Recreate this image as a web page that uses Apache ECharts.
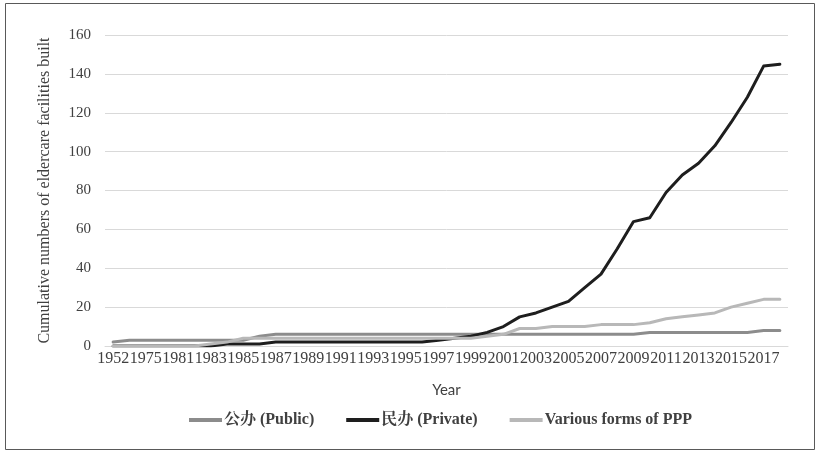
<!DOCTYPE html>
<html>
<head>
<meta charset="utf-8">
<script src="https://cdn.jsdelivr.net/npm/echarts@6/dist/echarts.min.js"></script>
<style>
  html, body { margin: 0; padding: 0; background: #fff; }
  #main { width: 819px; height: 453px; }
</style>
</head>
<body>
<div id="main"></div>
<script>
// years on the x axis (only every other one gets a label)
var years = ['1952', '1965', '1975', '1980', '1981', '1982', '1983', '1984', '1985', '1986',
  '1987', '1988', '1989', '1990', '1991', '1992', '1993', '1994', '1995', '1996',
  '1997', '1998', '1999', '2000', '2001', '2002', '2003', '2004', '2005', '2006',
  '2007', '2008', '2009', '2010', '2011', '2012', '2013', '2014', '2015', '2016',
  '2017', '2018'];

var publicVals = [2, 3, 3, 3, 3, 3, 3, 3, 3, 5,
  6, 6, 6, 6, 6, 6, 6, 6, 6, 6,
  6, 6, 6, 6, 6, 6, 6, 6, 6, 6,
  6, 6, 6, 7, 7, 7, 7, 7, 7, 7,
  8, 8];

var privateVals = [0, 0, 0, 0, 0, 0, 0, 1, 1, 1,
  2, 2, 2, 2, 2, 2, 2, 2, 2, 2,
  3, 4, 5, 7, 10, 15, 17, 20, 23, 30,
  37, 50, 64, 66, 79, 88, 94, 103, 115, 128,
  144, 145];

var pppVals = [0, 0, 0, 0, 0, 0, 1, 2, 4, 4,
  4, 4, 4, 4, 4, 4, 4, 4, 4, 4,
  4, 4, 4, 5, 6, 9, 9, 10, 10, 10,
  11, 11, 11, 12, 14, 15, 16, 17, 20, 22,
  24, 24];

var seriesNames = ['公办 (Public)', '民办 (Private)', 'Various forms of PPP'];
var yTicks = [0, 20, 40, 60, 80, 100, 120, 140, 160];

var chart = echarts.init(document.getElementById('main'));

var serif = "'Liberation Serif', 'Times New Roman', 'Noto Serif CJK SC', 'Noto Sans CJK SC', serif";

function line(name, data, color) {
  return {
    name: name,
    type: 'line',
    data: data,
    symbol: 'none',
    lineStyle: { width: 3, color: color, join: 'round', cap: 'round' },
    itemStyle: { color: color }
  };
}

var option = {
  animation: false,
  backgroundColor: '#fff',
  graphic: [{
    type: 'rect',
    shape: { x: 5.5, y: 3.5, width: 809, height: 446 },
    style: { fill: 'none', stroke: '#595959', lineWidth: 1 },
    silent: true
  }],
  grid: { left: 105, right: 31, top: 35, bottom: 107 },
  legend: {
    bottom: 20,
    left: 184,
    itemWidth: 33,
    itemHeight: 4,
    itemGap: 32,
    icon: 'rect',
    textStyle: { fontFamily: serif, fontWeight: 'bold', fontSize: 16, color: '#404040', padding: [0, 0, 0, -3] },
    data: seriesNames
  },
  xAxis: {
    type: 'category',
    data: years,
    boundaryGap: true,
    name: 'Year',
    nameLocation: 'middle',
    nameGap: 37,
    nameTextStyle: { fontFamily: "Lato, 'Open Sans', sans-serif", fontSize: 15, color: '#404040' },
    axisLine: { lineStyle: { color: '#d9d9d9', width: 1 } },
    axisTick: { show: false },
    axisLabel: {
      interval: 1,
      margin: 5,
      fontFamily: serif,
      fontSize: 16,
      color: '#404040'
    }
  },
  yAxis: {
    type: 'value',
    min: yTicks[0],
    max: yTicks[yTicks.length - 1],
    interval: 20,
    name: 'Cumulative numbers of eldercare facilities built',
    nameLocation: 'middle',
    nameGap: 52,
    nameTextStyle: { fontFamily: serif, fontSize: 16, color: '#404040' },
    axisLine: { show: false },
    axisTick: { show: false },
    axisLabel: { margin: 14, fontFamily: serif, fontSize: 15, color: '#404040' },
    splitLine: { lineStyle: { color: '#d9d9d9', width: 1 } }
  },
  series: [
    line(seriesNames[0], publicVals, '#8c8c8c'),
    line(seriesNames[1], privateVals, '#1e1e1e'),
    line(seriesNames[2], pppVals, '#b8b8b8')
  ]
};

chart.setOption(option);
</script>
</body>
</html>
